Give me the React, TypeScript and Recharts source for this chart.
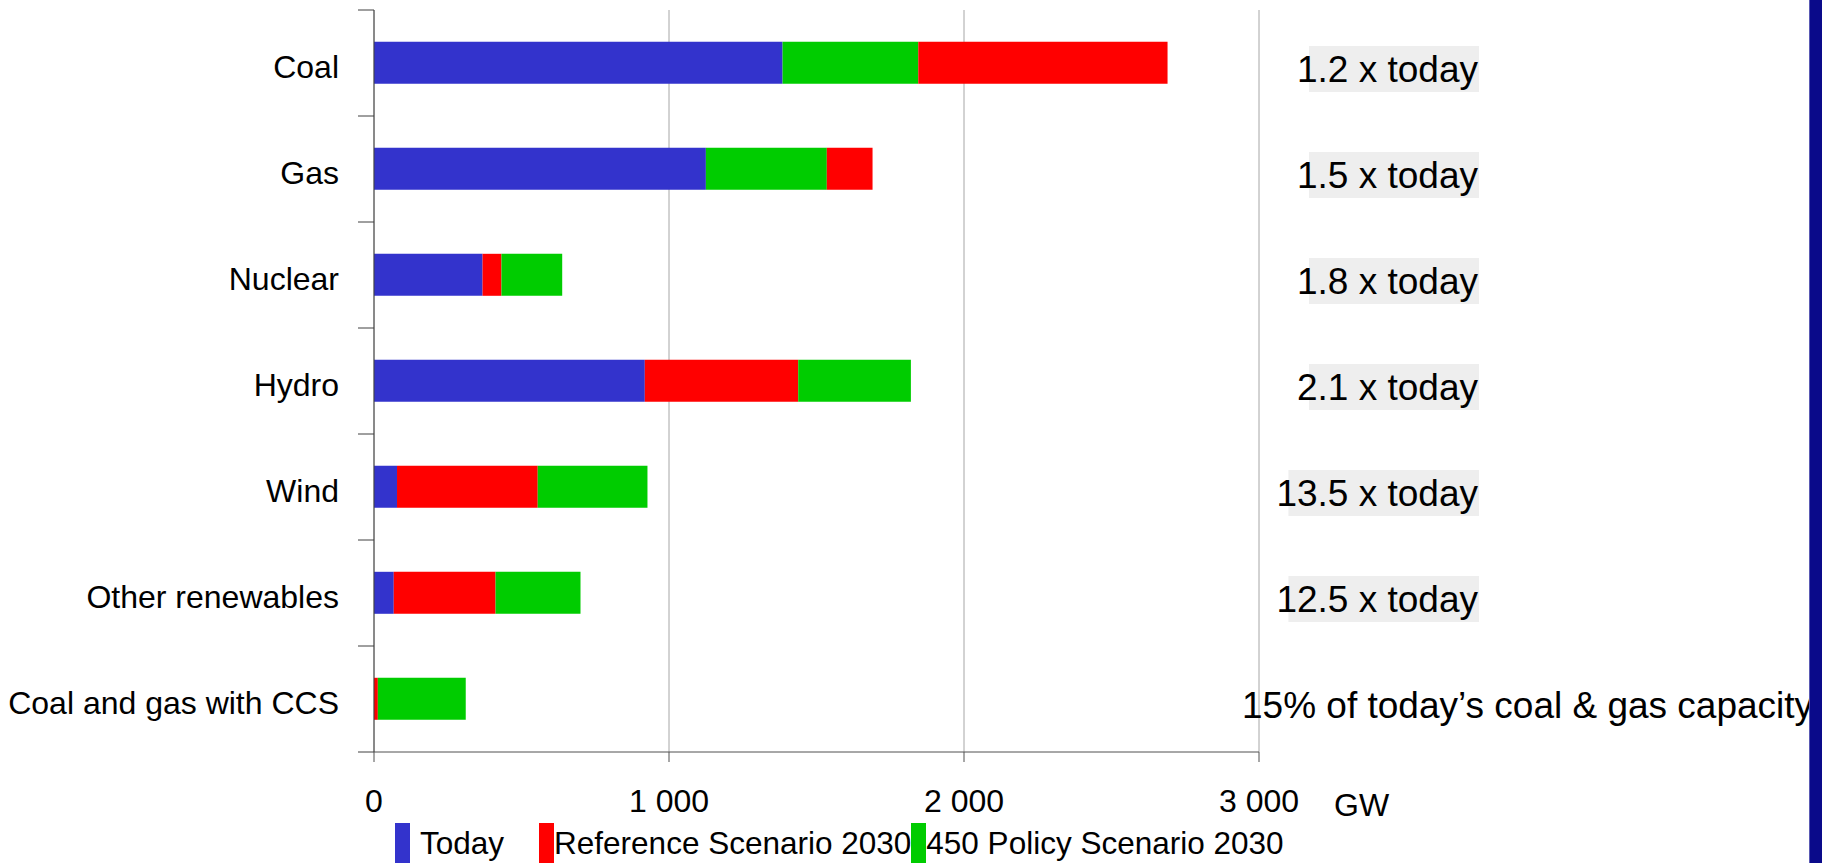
import React from "react"
import { BarChart, Bar, XAxis, YAxis, CartesianGrid, Legend, Cell } from "recharts"

const FONT = '"Liberation Sans", Arial, sans-serif'

// Installed power capacity by source, GW
const categories = ["Coal", "Gas", "Nuclear", "Hydro", "Wind", "Other renewables", "Coal and gas with CCS"]
const today = [1385, 1125, 368, 918, 78, 67, 0]
const reference2030 = [2690, 1690, 432, 1438, 555, 412, 13]
const policy2030 = [1845, 1535, 638, 1820, 927, 700, 311]
const growthNotes = [
  "1.2 x today",
  "1.5 x today",
  "1.8 x today",
  "2.1 x today",
  "13.5 x today",
  "12.5 x today",
  "15% of today\u2019s coal & gas capacity",
]
const xTicks = [0, 1000, 2000, 3000]

const series = [
  { name: "Today", color: "#3333CC", values: today },
  { name: "Reference Scenario 2030", color: "#FF0000", values: reference2030 },
  { name: "450 Policy Scenario 2030", color: "#00CC00", values: policy2030 },
]

const WIDTH = 1822
const HEIGHT = 863
const PLOT_LEFT = 374
const PLOT_TOP = 10
const PLOT_BOTTOM = 752
const BAND = (PLOT_BOTTOM - PLOT_TOP) / categories.length

// The scenarios overlap on a single bar per source: smallest value first,
// then each larger value only as the part reaching past the previous one.
const rows = categories.map((category, i) => {
  const sorted = series
    .map((s) => ({ value: s.values[i], color: s.color }))
    .sort((a, b) => a.value - b.value)
  return {
    category,
    seg0: sorted[0].value,
    seg1: sorted[1].value - sorted[0].value,
    seg2: sorted[2].value - sorted[1].value,
    colors: sorted.map((s) => s.color),
  }
})

const formatGW = (v: number) => String(v).replace(/\B(?=(\d{3})+(?!\d))/g, " ")

let measureCtx: CanvasRenderingContext2D | null = null
function textWidth(text: string, font: string) {
  if (!measureCtx) measureCtx = document.createElement("canvas").getContext("2d")
  if (!measureCtx) return text.length * 17
  measureCtx.font = font
  return measureCtx.measureText(text).width
}

// Source name, with tick marks on the band edges rather than the centre
function CategoryTick({ y, payload, index }: any) {
  const last = index === categories.length - 1
  return (
    <g>
      <line x1={PLOT_LEFT - 16} x2={PLOT_LEFT} y1={y - BAND / 2} y2={y - BAND / 2} stroke="#404040" />
      {last && (
        <line x1={PLOT_LEFT - 16} x2={PLOT_LEFT} y1={y + BAND / 2} y2={y + BAND / 2} stroke="#404040" />
      )}
      <text x={339} y={y + 3} dy="0.36em" textAnchor="end" fontSize={32} fontFamily={FONT} fill="#000">
        {payload.value}
      </text>
    </g>
  )
}

// Growth note on the right, shaded except for the CCS line
function NoteTick({ y, index }: any) {
  const note = growthNotes[index]
  const cy = y + 6
  if (index === categories.length - 1) {
    return (
      <text x={1242} y={cy} dy="0.36em" fontSize={37} fontFamily={FONT} fill="#000">
        {note}
      </text>
    )
  }
  const right = 1478
  const w = textWidth(note, `37px ${FONT}`)
  return (
    <g>
      <rect x={right - w + 12} y={cy - 23} width={w - 11} height={46} fill="#EEEEEE" />
      <text x={right} y={cy} dy="0.36em" textAnchor="end" fontSize={37} fontFamily={FONT} fill="#000">
        {note}
      </text>
    </g>
  )
}

function GwLabel({ viewBox }: any) {
  return (
    <text x={viewBox.x + viewBox.width + 75} y={816} fontSize={32} fontFamily={FONT} fill="#000">
      GW
    </text>
  )
}

function ScenarioLegend() {
  const swatch = (color: string) => (
    <span style={{ display: "inline-block", width: 15, height: 40, background: color }} />
  )
  return (
    <div
      style={{
        height: 40,
        display: "flex",
        alignItems: "center",
        paddingLeft: 395,
        fontFamily: FONT,
        fontSize: 31.5,
        lineHeight: "40px",
        color: "#000",
        whiteSpace: "nowrap",
      }}
    >
      {swatch(series[0].color)}
      <span style={{ marginLeft: 10, marginRight: 35 }}>{series[0].name}</span>
      {swatch(series[1].color)}
      <span>{series[1].name}</span>
      {swatch(series[2].color)}
      <span>{series[2].name}</span>
    </div>
  )
}

export default function App() {
  return (
    <div style={{ position: "absolute", left: 0, top: 0, width: WIDTH, height: HEIGHT, background: "#fff" }}>
      <BarChart
        width={WIDTH}
        height={HEIGHT}
        data={rows}
        layout="vertical"
        margin={{ top: PLOT_TOP, right: 0, bottom: 0, left: 0 }}
        barCategoryGap="30%"
      >
        <CartesianGrid horizontal={false} stroke="#A6A6A6" />
        <XAxis
          type="number"
          domain={[0, 3000]}
          ticks={xTicks}
          tickFormatter={formatGW}
          height={71}
          tickSize={10}
          tickMargin={27}
          axisLine={{ stroke: "#505050" }}
          tickLine={{ stroke: "#505050" }}
          tick={{ fontSize: 32, fill: "#000", fontFamily: FONT }}
          label={(props: any) => <GwLabel {...props} />}
        />
        <YAxis
          type="category"
          dataKey="category"
          width={PLOT_LEFT}
          axisLine={{ stroke: "#404040" }}
          tickLine={false}
          tick={<CategoryTick />}
          interval={0}
        />
        <YAxis
          yAxisId="notes"
          orientation="right"
          type="category"
          dataKey="category"
          width={WIDTH - 1259}
          axisLine={false}
          tickLine={false}
          tick={<NoteTick />}
          interval={0}
        />
        <Legend verticalAlign="bottom" align="left" content={() => <ScenarioLegend />} />
        <Bar dataKey="seg0" stackId="gw" isAnimationActive={false}>
          {rows.map((r, i) => (
            <Cell key={i} fill={r.colors[0]} />
          ))}
        </Bar>
        <Bar dataKey="seg1" stackId="gw" isAnimationActive={false}>
          {rows.map((r, i) => (
            <Cell key={i} fill={r.colors[1]} />
          ))}
        </Bar>
        <Bar dataKey="seg2" stackId="gw" isAnimationActive={false}>
          {rows.map((r, i) => (
            <Cell key={i} fill={r.colors[2]} />
          ))}
        </Bar>
      </BarChart>
      <div
        style={{
          position: "absolute",
          right: 0,
          top: 0,
          width: 12,
          height: HEIGHT,
          background: "#0A0A8A",
          borderLeft: "1px solid #5A5AB4",
        }}
      />
    </div>
  )
}
